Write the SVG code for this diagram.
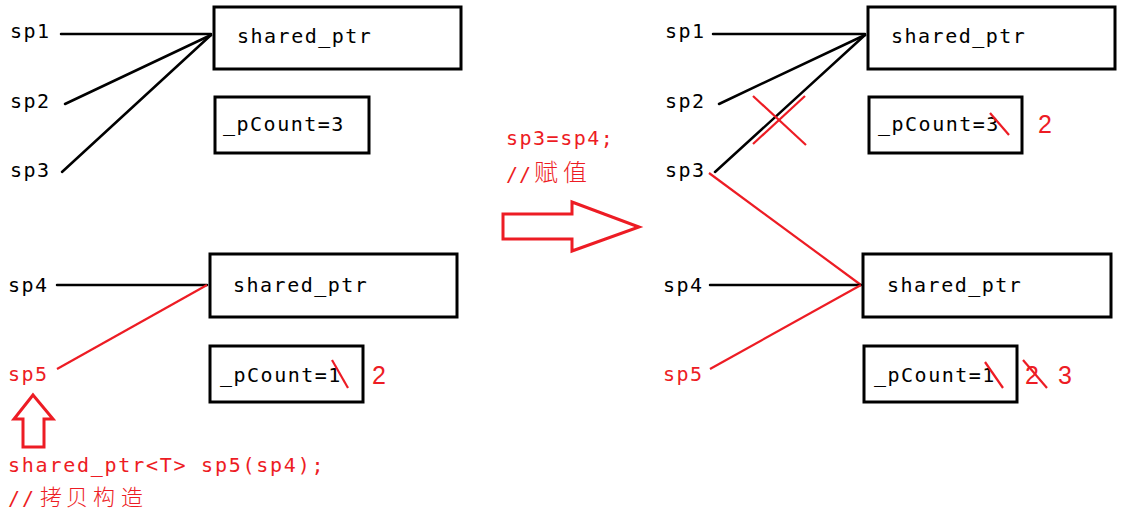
<svg xmlns="http://www.w3.org/2000/svg" width="1126" height="520" viewBox="0 0 1126 520">
<style>
.t{font-family:"DejaVu Sans Mono","Noto Sans CJK SC",monospace;font-size:20px;letter-spacing:1.5px;fill:#000}
.r{fill:#ed1c24}
.cjk{font-family:"Noto Sans CJK SC",sans-serif;font-size:22px;letter-spacing:0;font-weight:300}
.n{font-family:"Liberation Sans","DejaVu Sans",sans-serif;font-size:25px;fill:#ed1c24}
.box{fill:#fff;stroke:#000;stroke-width:3}
.bl{stroke:#000;stroke-width:2.5;fill:none;stroke-linecap:round}
.rl{stroke:#ed1c24;stroke-width:2.2;fill:none}
.arr{fill:#fff;stroke:#ed1c24;stroke-width:3}
</style>
<rect width="1126" height="520" fill="#fff"/>

<g id="connectors">
  <line class="bl" x1="61" y1="34" x2="211" y2="34"/>
  <line class="bl" x1="65" y1="104" x2="211" y2="35"/>
  <line class="bl" x1="62" y1="172" x2="211" y2="35"/>
  <line class="bl" x1="57" y1="285" x2="207" y2="285"/>
  <line class="rl" x1="57" y1="369" x2="207" y2="285"/>
  <line class="bl" x1="713" y1="34" x2="865" y2="34"/>
  <line class="bl" x1="719" y1="104" x2="865" y2="35"/>
  <line class="bl" x1="715" y1="172" x2="865" y2="35"/>
  <line class="rl" x1="709" y1="173" x2="861" y2="285"/>
  <line class="bl" x1="710" y1="285" x2="861" y2="285"/>
  <line class="rl" x1="710" y1="369" x2="861" y2="285"/>
</g>

<g id="left-labels">
  <text class="t" x="10" y="38">sp1</text>
  <text class="t" x="10" y="108">sp2</text>
  <text class="t" x="10" y="177">sp3</text>
  <text class="t" x="8" y="292">sp4</text>
  <text class="t r" x="8" y="381">sp5</text>
</g>

<g id="left-shared-top">
  <rect class="box" x="214" y="7" width="247" height="62"/>
  <text class="t" x="237" y="43">shared_ptr</text>
</g>
<g id="left-count-top">
  <rect class="box" x="215" y="97" width="154" height="56"/>
  <text class="t" x="223" y="131">_pCount=3</text>
</g>
<g id="left-shared-bottom">
  <rect class="box" x="210" y="254" width="247" height="63"/>
  <text class="t" x="233" y="292">shared_ptr</text>
</g>
<g id="left-count-bottom">
  <rect class="box" x="210" y="346" width="153" height="56"/>
  <text class="t" x="220" y="382">_pCount=1</text>
  <line class="rl" x1="332" y1="360" x2="348" y2="388"/>
  <text class="n" x="372" y="384">2</text>
</g>

<g id="copy-note">
  <polygon class="arr" points="33,395 53,419 44,419 44,447 23,447 23,419 14,419"/>
  <text class="t r" x="8" y="472" textLength="317">shared_ptr&lt;T&gt; sp5(sp4);</text>
  <text class="t r" x="8" y="505"><tspan x="8 22">//</tspan><tspan class="cjk" x="40 66 93 121">拷贝构造</tspan></text>
</g>

<g id="assign-note">
  <text class="t r" x="506" y="145">sp3=sp4;</text>
  <text class="t r" x="506" y="181"><tspan x="506 519">//</tspan><tspan class="cjk" x="534 563" style="font-size:24px">赋值</tspan></text>
  <polygon class="arr" points="503,214 572,214 572,202 639,227 572,251 572,239 503,239"/>
</g>

<g id="right-labels">
  <text class="t" x="665" y="38">sp1</text>
  <text class="t" x="665" y="108">sp2</text>
  <text class="t" x="665" y="177">sp3</text>
  <text class="t" x="663" y="292">sp4</text>
  <text class="t r" x="663" y="381">sp5</text>
  <line class="rl" x1="753" y1="96" x2="806" y2="145"/>
  <line class="rl" x1="753" y1="144" x2="805" y2="96"/>
</g>

<g id="right-shared-top">
  <rect class="box" x="868" y="7" width="247" height="62"/>
  <text class="t" x="891" y="43">shared_ptr</text>
</g>
<g id="right-count-top">
  <rect class="box" x="869" y="97" width="153" height="56"/>
  <text class="t" x="878" y="131">_pCount=3</text>
  <line class="rl" x1="990" y1="113" x2="1009" y2="135"/>
  <text class="n" x="1038" y="133">2</text>
</g>
<g id="right-shared-bottom">
  <rect class="box" x="863" y="254" width="248" height="63"/>
  <text class="t" x="887" y="292">shared_ptr</text>
</g>
<g id="right-count-bottom">
  <rect class="box" x="864" y="346" width="153" height="56"/>
  <text class="t" x="874" y="382">_pCount=1</text>
  <line class="rl" x1="985" y1="362" x2="1003" y2="388"/>
  <text class="n" x="1025" y="384">2</text>
  <line class="rl" x1="1023" y1="360" x2="1047" y2="388"/>
  <text class="n" x="1058" y="384">3</text>
</g>
</svg>
